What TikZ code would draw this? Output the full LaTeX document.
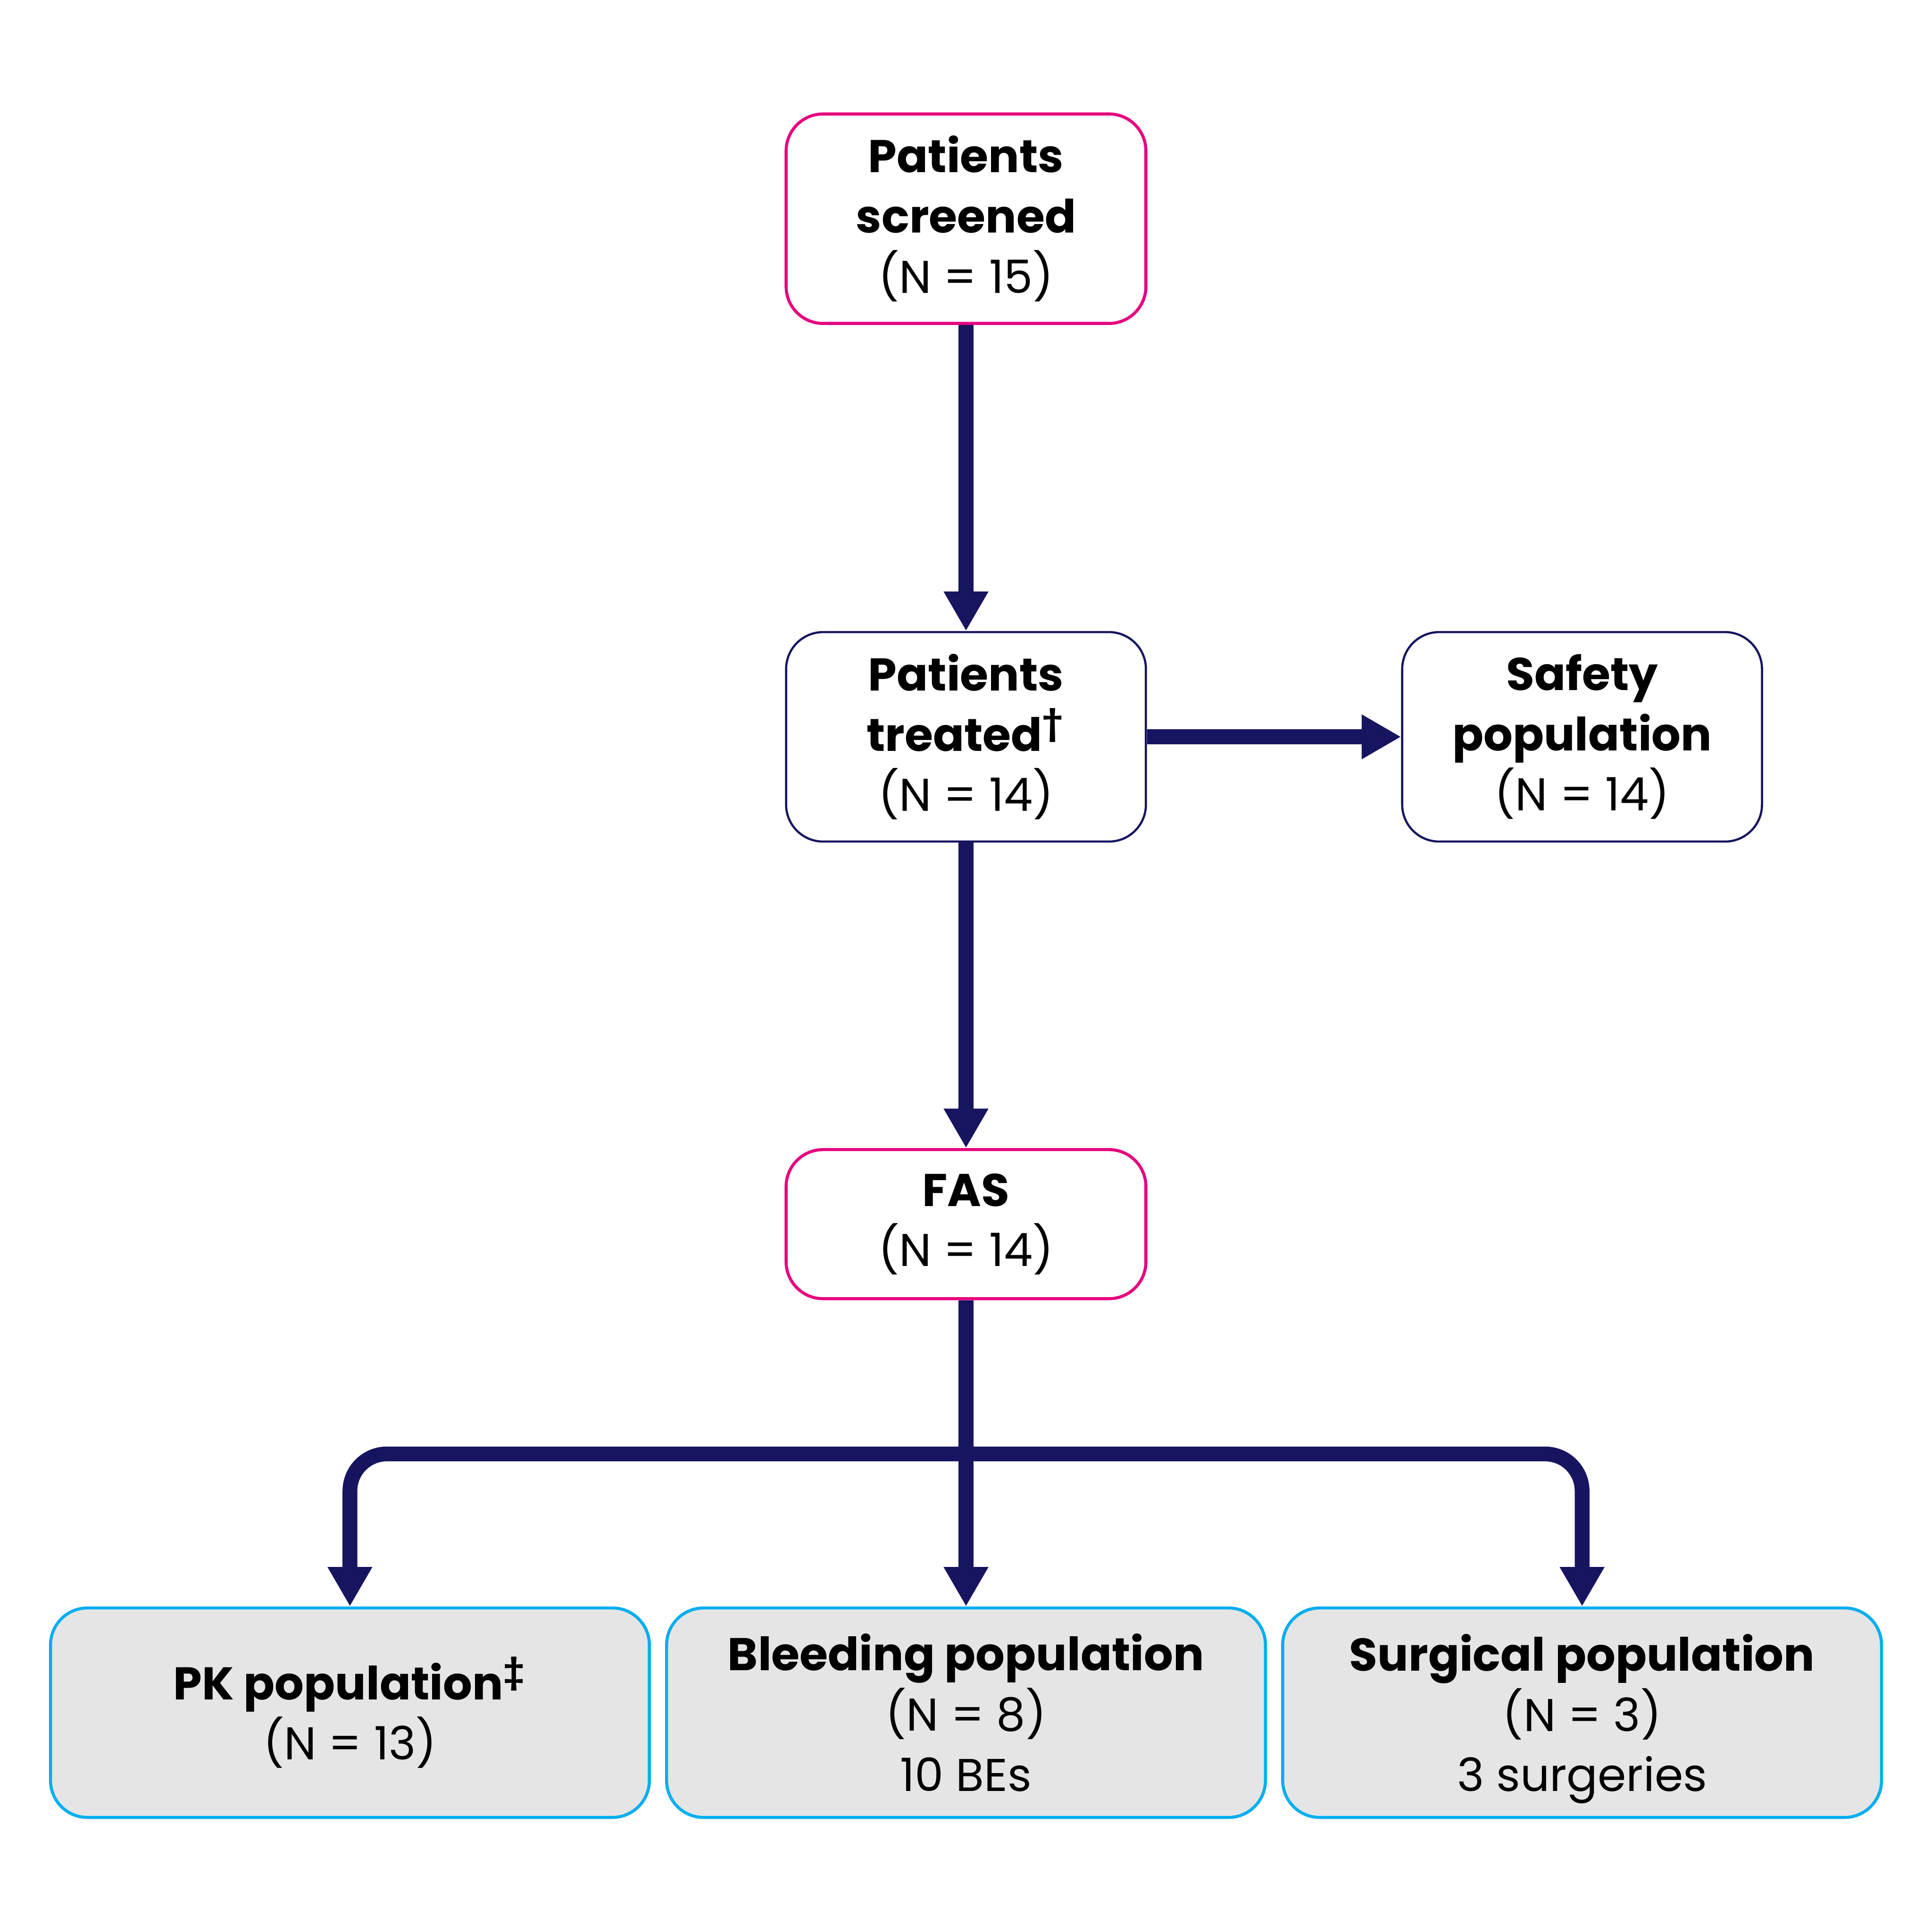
\documentclass[tikz,border=0pt]{standalone}
\usepackage{fontspec}
\setmainfont{Poppins}
\usepackage{xcolor}
\usepackage{tikz}
\usetikzlibrary{arrows.meta, positioning, calc}

\definecolor{navy}{HTML}{171460}
\definecolor{magenta}{HTML}{E6007E}
\definecolor{cyan}{HTML}{00AEEF}
\definecolor{boxgray}{HTML}{E5E5E5}

\begin{document}
\begin{tikzpicture}[
    box/.style={rectangle, rounded corners=0.3cm, draw, fill=white, minimum width=2.92cm, minimum height=1.7cm, align=center, font=\fontsize{10.6}{13.9}\selectfont, inner sep=0pt},
    pop/.style={box, draw=cyan, line width=0.7pt, fill=boxgray, minimum width=4.86cm},
    arr/.style={-{Triangle[width=0.34cm, length=0.32cm]}, line width=0.12cm, draw=navy},
]
\useasboundingbox (0,0) rectangle (15.68,-15.68);

% --- Top row ---
\node[box, draw=magenta, line width=0.7pt] (p_scr) at (7.84, -1.775) {\textbf{Patients}\\\textbf{screened}\\(N = 15)};
\node[box, draw=navy, line width=0.5pt] (p_trt) at (7.84, -5.98) {\textbf{Patients}\\\textbf{treated}\textsuperscript{\textbf{†}}\\(N = 14)};
\node[box, draw=navy, line width=0.5pt] (p_saf) at (12.84, -5.98) {\textbf{Safety}\\\textbf{population}\\(N = 14)};
\node[box, draw=magenta, line width=0.7pt, minimum height=1.21cm] (p_fas) at (7.84, -9.935) {\textbf{FAS}\\(N = 14)};

% --- Populations ---
\node[pop] (p_pk) at (2.84, -13.90) {\textbf{PK population}\textsuperscript{\textbf{‡}}\\(N = 13)};
\node[pop] (p_bld) at (7.84, -13.90) {\textbf{Bleeding population}\\(N = 8)\\10 BEs};
\node[pop] (p_srg) at (12.84, -13.90) {\textbf{Surgical population}\\(N = 3)\\\raisebox{0pt}[\height][0pt]{3 surgeries}};
\coordinate (split) at (7.84, -11.80);

\draw[arr] (p_scr) -- (p_trt);
\draw[arr] (p_trt) -- (p_saf);
\draw[arr] (p_trt) -- (p_fas);
\draw[arr] (p_fas) -- (p_bld);
\draw[arr, rounded corners=0.3cm] (split) -| (p_pk);
\draw[arr, rounded corners=0.3cm] (split) -| (p_srg);
\end{tikzpicture}
\end{document}
